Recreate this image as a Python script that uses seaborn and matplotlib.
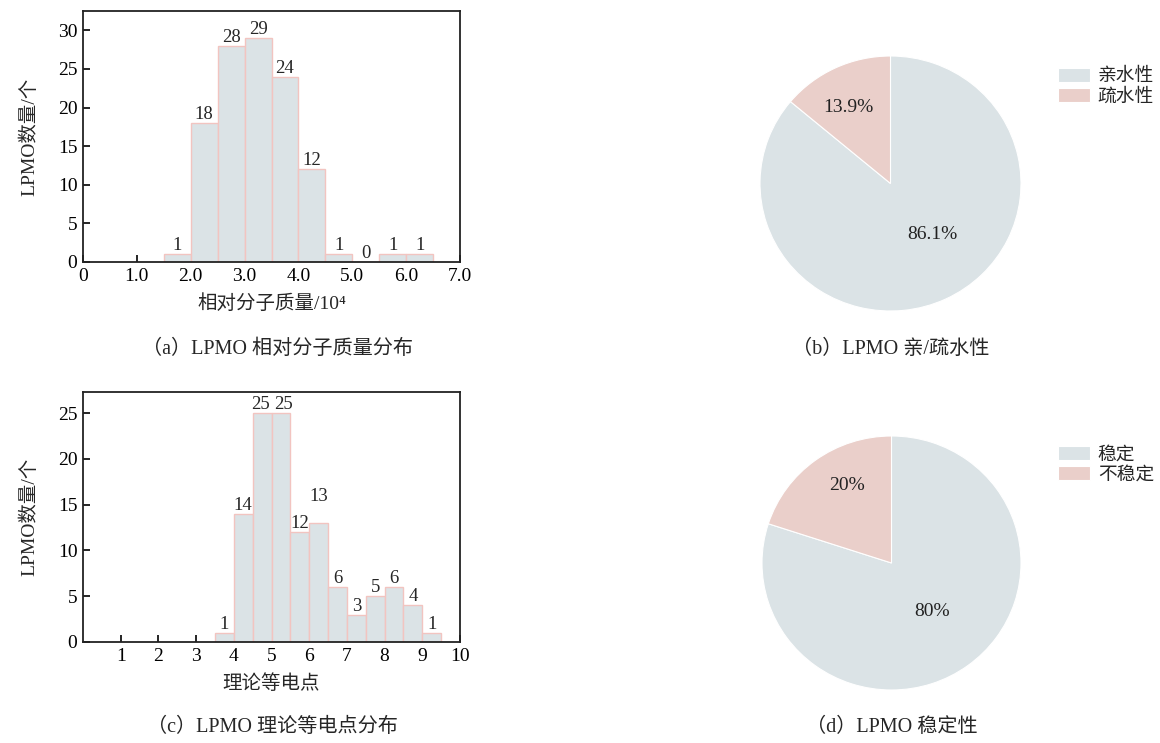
import seaborn as sns
import matplotlib.pyplot as plt
import numpy as np

# data
mw_edges = [1.5, 2.0, 2.5, 3.0, 3.5, 4.0, 4.5, 5.0, 5.5, 6.0, 6.5]
mw_counts = [1, 18, 28, 29, 24, 12, 1, 0, 1, 1]
pi_edges = [3.5, 4.0, 4.5, 5.0, 5.5, 6.0, 6.5, 7.0, 7.5, 8.0, 8.5, 9.0, 9.5]
pi_counts = [1, 14, 25, 25, 12, 13, 6, 3, 5, 6, 4, 1]
hydro_labels = ["亲水性", "疏水性"]
hydro_values = [86.1, 13.9]
stab_labels = ["稳定", "不稳定"]
stab_values = [80, 20]

blue = "#dbe3e6"
pink = "#eacfca"
edge = "#f2c4c0"

sns.set_style("white")
plt.rcParams["font.family"] = ["Liberation Serif", "Noto Sans CJK SC"]

fig = plt.figure(figsize=(11.6, 7.43), dpi=100)


def hist_panel(rect, edges, counts, xlim, ylim, xticks, xticklabels, yticks, xlabel, nudge=None):
	ax = fig.add_axes(rect)
	centers = [(edges[i] + edges[i + 1]) / 2 for i in range(len(counts))]
	sns.histplot(x=centers, weights=counts, bins=edges, ax=ax, color=blue, edgecolor=edge,
				 linewidth=1.0, alpha=1)
	labels = ax.bar_label(ax.containers[0], fmt="%d", fontsize=13.5, padding=0)
	if nudge:
		for idx, off in nudge.items():
			labels[idx].xyann = off
	ax.set_xlim(*xlim)
	ax.set_ylim(*ylim)
	ax.set_xticks(xticks)
	ax.set_xticklabels(xticklabels)
	ax.set_yticks(yticks)
	ax.tick_params(direction="in", length=5, width=1.2, labelsize=14, bottom=True, left=True,
				   colors="black", pad=4)
	for s in ax.spines.values():
		s.set_linewidth(1.3)
		s.set_color("#222222")
	ax.set_xlabel(xlabel, fontsize=14, labelpad=7)
	ax.set_ylabel("LPMO数量/个", fontsize=14, labelpad=14)
	return ax


hist_panel([83 / 1160, 1 - 262 / 743, 377 / 1160, 251 / 743], mw_edges, mw_counts,
		   (0, 7), (0, 32.5), [0, 1, 2, 3, 4, 5, 6, 7],
		   ["0", "1.0", "2.0", "3.0", "4.0", "5.0", "6.0", "7.0"], [0, 5, 10, 15, 20, 25, 30],
		   "相对分子质量/10⁴")

hist_panel([83 / 1160, 1 - 642 / 743, 377 / 1160, 250 / 743], pi_edges, pi_counts,
		   (0, 10), (0, 27.3), list(range(1, 11)), [str(i) for i in range(1, 11)],
		   [0, 5, 10, 15, 20, 25], "理论等电点", nudge={2: (-1, 0), 3: (2, 0), 5: (0, 13)})


def pie_panel(rect, values, labels, legend_y, label_pos):
	ax = fig.add_axes(rect)
	wedges, _, autotexts = ax.pie(values, colors=[blue, pink], startangle=90, counterclock=False,
								  autopct=lambda p: "%g%%" % round(p, 1), pctdistance=0.6,
								  wedgeprops=dict(edgecolor="white", linewidth=0.8),
								  textprops=dict(fontsize=14, color="#222222"))
	for t, pos in zip(autotexts, label_pos):
		t.set_position(pos)
	ax.set_xlim(-1, 1)
	ax.set_ylim(-1, 1)
	ax.set_aspect("auto")
	fig.legend(wedges, labels, loc="upper left", bbox_to_anchor=(1050 / 1160, 1 - legend_y / 743),
			   frameon=False, fontsize=13.5, handlelength=1.75, handleheight=0.8, handletextpad=0.4,
			   labelspacing=0.15, borderaxespad=0)
	return ax


pie_panel([760 / 1160, 1 - 311 / 743, 261 / 1160, 255 / 743], hydro_values, hydro_labels, 60,
		  [(0.32, -0.40), (-0.32, 0.60)])
pie_panel([762 / 1160, 1 - 690 / 743, 259 / 1160, 254 / 743], stab_values, stab_labels, 438,
		  [(0.31, -0.38), (-0.34, 0.61)])

cap = dict(ha="center", va="center", fontsize=14.5)
fig.text(278 / 1160, 1 - 349 / 743, "（a）LPMO 相对分子质量分布", **cap)
fig.text(891 / 1160, 1 - 349 / 743, "（b）LPMO 亲/疏水性", **cap)
fig.text(272 / 1160, 1 - 727 / 743, "（c）LPMO 理论等电点分布", **cap)
fig.text(892 / 1160, 1 - 727 / 743, "（d）LPMO 稳定性", **cap)

plt.savefig("out.png", dpi=100)
